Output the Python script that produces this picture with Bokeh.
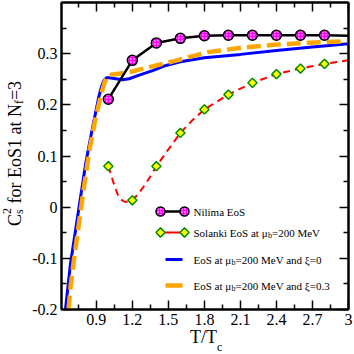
import math
from bokeh.plotting import figure
from bokeh.models import Range1d, LinearAxis, FixedTicker, Label, Div
from bokeh.layouts import row, column
from bokeh.embed import file_html
from bokeh.resources import INLINE

# ---------------- data ----------------
nilima_T = [1.0, 1.2, 1.4, 1.6, 1.8, 2.0, 2.2, 2.4, 2.6, 2.8]
nilima_cs2 = [0.211, 0.287, 0.321, 0.330, 0.335, 0.336, 0.336, 0.336, 0.336, 0.336]
nilima_line_T = [1.0, 1.2, 1.4, 1.6, 1.8, 2.0, 2.2, 2.4, 2.6, 2.8, 3.0]
nilima_line_cs2 = [0.211, 0.287, 0.321, 0.330, 0.335, 0.336, 0.336, 0.336, 0.336, 0.336, 0.335]

solanki_T = [1.0, 1.2, 1.4, 1.6, 1.8, 2.0, 2.2, 2.4, 2.6, 2.8]
solanki_cs2 = [0.080, 0.0135, 0.080, 0.145, 0.191, 0.220, 0.243, 0.260, 0.271, 0.280]
solanki_line_T = [1.0, 1.02, 1.04, 1.06, 1.08, 1.1, 1.13, 1.16, 1.2, 1.25, 1.3, 1.35, 1.4,
                  1.5, 1.6, 1.7, 1.8, 2.0, 2.2, 2.4, 2.6, 2.8, 3.0]
solanki_line_cs2 = [0.080, 0.066, 0.050, 0.036, 0.024, 0.016, 0.011, 0.010, 0.0135, 0.026, 0.042,
                    0.060, 0.080, 0.113, 0.145, 0.170, 0.191, 0.220, 0.243, 0.260, 0.271, 0.280, 0.287]

xi0_T = [0.643, 0.685, 0.727, 0.769, 0.811, 0.853, 0.89, 0.92, 0.945, 0.964, 0.985, 1.006,
         1.062, 1.118, 1.173, 1.257, 1.369, 1.48, 1.6, 1.8, 2.1, 2.4, 2.7, 3.0]
xi0_cs2 = [-0.200, -0.110, -0.045, 0.020, 0.085, 0.137, 0.180, 0.215, 0.237, 0.248, 0.253, 0.253,
           0.251, 0.249, 0.251, 0.258, 0.267, 0.277, 0.284, 0.292, 0.2986, 0.306, 0.313, 0.3195]

xi03_T = [0.669, 0.685, 0.713, 0.755, 0.797, 0.838, 0.87, 0.895, 0.92, 0.945, 0.97, 0.992,
          1.034, 1.087, 1.202, 1.313, 1.48, 1.547, 1.829, 2.108, 2.384, 2.666, 3.0]
xi03_cs2 = [-0.200, -0.156, -0.104, -0.032, 0.039, 0.105, 0.145, 0.175, 0.200, 0.225, 0.245, 0.2566,
            0.2594, 0.2608, 0.2653, 0.2721, 0.2815, 0.2855, 0.303, 0.3116, 0.3175, 0.3214, 0.3246]

x_ticks = [0.9, 1.2, 1.5, 1.8, 2.1, 2.4, 2.7, 3.0]
x_tick_labels = ["0.9", "1.2", "1.5", "1.8", "2.1", "2.4", "2.7", "3"]
x_minor = [0.75, 1.05, 1.35, 1.65, 1.95, 2.25, 2.55, 2.85]
y_ticks = [-0.2, -0.1, 0.0, 0.1, 0.2, 0.3]
y_tick_labels = ["-0.2", "-0.1", "0", "0.1", "0.2", "0.3"]
y_minor = [-0.15, -0.05, 0.05, 0.15, 0.25, 0.35]

# ---------------- layout ----------------
X0, X1 = 0.61, 3.0
Y0, Y1 = -0.2, 0.4
YDIV_W = 24
XDIV_H = 24
W = 354 - YDIV_W
H = 354 - XDIV_H
BL, BR, BT, BB = 37, 6, 2, 21
FW = W - BL - BR
FH = H - BT - BB
FONT = "Liberation Serif"

p = figure(width=W, height=H, x_range=Range1d(X0, X1), y_range=Range1d(Y0, Y1),
           output_backend="svg", toolbar_location=None,
           min_border_left=BL, min_border_right=BR, min_border_top=BT, min_border_bottom=BB,
           background_fill_color="white", border_fill_color="white")
p.xgrid.visible = False
p.ygrid.visible = False
p.outline_line_color = "black"
p.outline_line_width = 2

bottom_axis = p.below[0]
left_axis = p.left[0]
top_axis = LinearAxis()
right_axis = LinearAxis()
p.add_layout(top_axis, "above")
p.add_layout(right_axis, "right")

xt = FixedTicker(ticks=x_ticks, minor_ticks=x_minor)
yt = FixedTicker(ticks=y_ticks, minor_ticks=y_minor)
for ax, tk, labels in [(bottom_axis, xt, x_tick_labels), (top_axis, xt, None),
                       (left_axis, yt, y_tick_labels), (right_axis, yt, None)]:
    ax.ticker = tk
    ax.major_tick_in = 9
    ax.major_tick_out = 0
    ax.minor_tick_in = 5
    ax.minor_tick_out = 0
    ax.major_tick_line_width = 1.5
    ax.minor_tick_line_width = 1.5
    ax.major_tick_line_color = "black"
    ax.minor_tick_line_color = "black"
    ax.axis_line_width = 2
    ax.axis_line_color = "black"
    ax.major_label_text_font = FONT
    ax.major_label_text_color = "black"
    if labels is not None:
        ax.major_label_text_font_size = "16px"
        ax.major_label_standoff = 4
        ax.major_label_overrides = dict(zip(tk.ticks, labels))
    else:
        ax.major_label_text_font_size = "0px"
        ax.major_label_standoff = 0
        ax.major_label_overrides = {t: "" for t in tk.ticks}

# ---------------- series ----------------
p.line(xi0_T, xi0_cs2, line_color="#0000ff", line_width=3)
p.line(xi03_T, xi03_cs2, line_color="#ffa500", line_width=4.5, line_dash="14 6")
p.line(solanki_line_T, solanki_line_cs2, line_color="#ff0000", line_width=2, line_dash="7 5")
p.line(nilima_line_T, nilima_line_cs2, line_color="black", line_width=2.5)
p.scatter(nilima_T, nilima_cs2, marker="circle", size=10, fill_color="#ff00ff",
          line_color="black", line_width=1.5,
          hatch_pattern="dot", hatch_color="white", hatch_scale=3, hatch_weight=1)
p.scatter(solanki_T, solanki_cs2, marker="square", angle=math.pi / 4, size=6.5,
          fill_color="#ffff00", line_color="#008b00", line_width=1.5)


def fx(dx):
    return X0 + dx * (X1 - X0) / FW


def fy(dy):
    return Y0 + dy * (Y1 - Y0) / FH


def lab(text, dx, dy, size):
    p.add_layout(Label(x=X0, y=Y0, x_offset=dx, y_offset=dy, text=text,
                       text_font=FONT, text_font_size=f"{size}px", text_color="black",
                       text_align="left", text_baseline="middle"))


# ---------------- legend (manual, for the subscripts) ----------------
rows = [98, 77, 50, 24]
mk1, mk2 = 99, 123
ln1, ln2 = 104, 121
tx = 132
LS = 11
SUB = 8

p.line([fx(mk1), fx(mk2)], [fy(rows[0])] * 2, line_color="black", line_width=2.5)
p.scatter([fx(mk1), fx(mk2)], [fy(rows[0])] * 2, marker="circle", size=9,
          fill_color="#ff00ff", line_color="black", line_width=1.5,
          hatch_pattern="dot", hatch_color="white", hatch_scale=3, hatch_weight=1)
p.line([fx(mk1), fx(mk2)], [fy(rows[1])] * 2, line_color="#ff0000", line_width=2)
p.scatter([fx(mk1), fx(mk2)], [fy(rows[1])] * 2, marker="square", angle=math.pi / 4, size=6.5,
          fill_color="#ffff00", line_color="#008b00", line_width=1.5)
p.line([fx(ln1), fx(ln2)], [fy(rows[2])] * 2, line_color="#0000ff", line_width=3)
p.line([fx(ln1), fx(ln2)], [fy(rows[3])] * 2, line_color="#ffa500", line_width=4.5)

lab("Nilima EoS", tx, rows[0], LS)
w_sol = 6.771 * LS
lab("Solanki EoS at \u03bc", tx, rows[1], LS)
lab("b", tx + w_sol, rows[1] - 3, SUB)
lab("=200 MeV", tx + w_sol + 0.5 * SUB, rows[1], LS)
w_eos = 3.465 * LS
lab("EoS at \u03bc", tx, rows[2], LS)
lab("b", tx + w_eos, rows[2] - 3, SUB)
lab("=200 MeV and \u03be=0", tx + w_eos + 0.5 * SUB, rows[2], LS)
lab("EoS at \u03bc", tx, rows[3], LS)
lab("b", tx + w_eos, rows[3] - 3, SUB)
lab("=200 MeV and \u03be=0.3", tx + w_eos + 0.5 * SUB, rows[3], LS)

# ---------------- axis titles (HTML, for sub/superscripts) ----------------
ff = "font-family:'Liberation Serif',serif;color:black;white-space:nowrap;"
ylab_html = (
    f'<div style="position:relative;width:{YDIV_W}px;height:354px;">'
    f'<div style="position:absolute;left:4.9px;top:226px;transform:rotate(-90deg);'
    f'transform-origin:0 0;{ff}font-size:18px;line-height:20px;">'
    'C<span style="position:relative;top:-10px;font-size:12px;">2</span>'
    '<span style="position:relative;top:2px;font-size:12px;margin-left:-6px;margin-right:1.3px;">s</span>'
    ' for EoS1 at N<span style="position:relative;top:2px;font-size:12px;">f</span>=3'
    '</div></div>'
)
xlab_html = (
    f'<div style="position:relative;width:{W}px;height:{XDIV_H}px;">'
    f'<div style="position:absolute;left:{190 - YDIV_W}px;top:-2px;{ff}font-size:18px;line-height:18px;">'
    'T/T<span style="position:relative;top:8px;font-size:12px;">c</span>'
    '</div></div>'
)
ydiv = Div(text=ylab_html, width=YDIV_W, height=354, margin=0)
xdiv = Div(text=xlab_html, width=W, height=XDIV_H, margin=0)

layout = row(ydiv, column(p, xdiv, spacing=0, margin=0), spacing=0, margin=0)

open("out.html", "w").write(file_html(layout, INLINE))
